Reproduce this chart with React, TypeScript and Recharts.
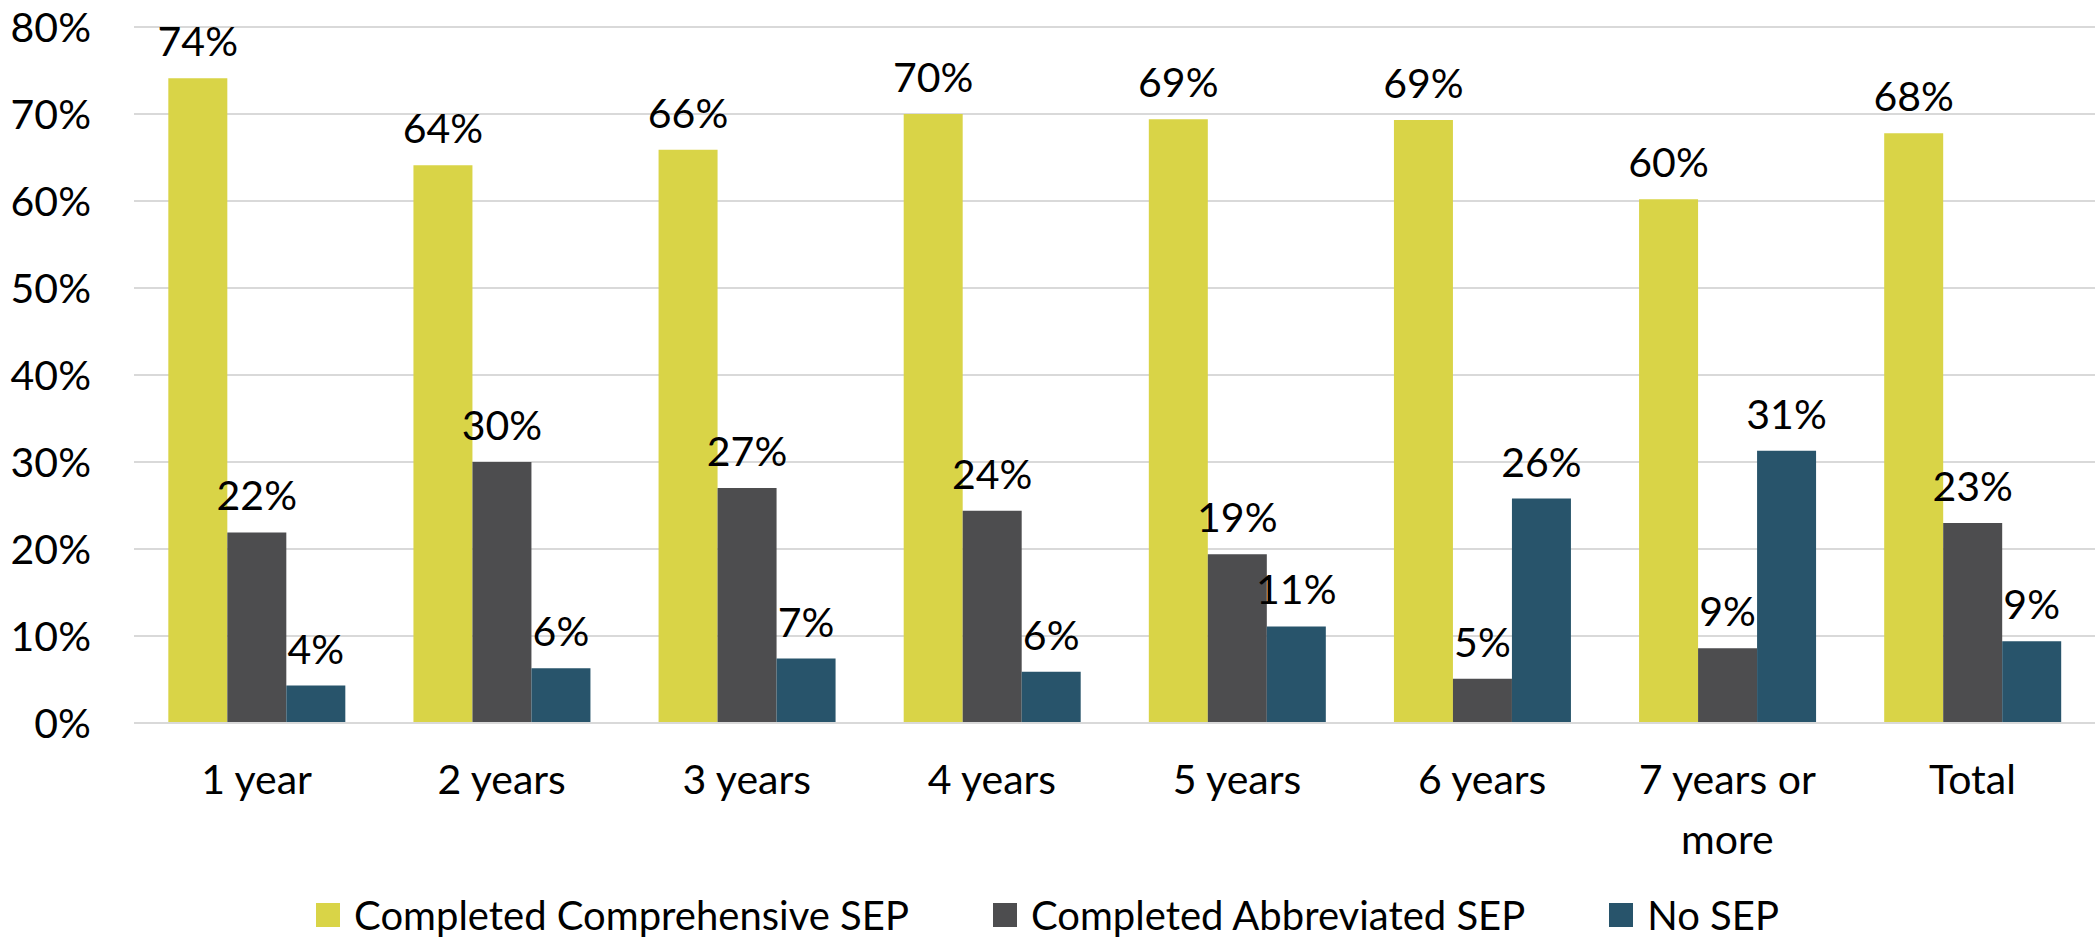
import { BarChart, Bar, XAxis, YAxis, CartesianGrid, Legend, LabelList } from "recharts";

const categories = ["1 year", "2 years", "3 years", "4 years", "5 years", "6 years", "7 years or more", "Total"];
const comprehensive = [74.1, 64.1, 65.9, 70.0, 69.4, 69.3, 60.2, 67.8];
const abbreviated = [21.9, 30.0, 27.0, 24.4, 19.4, 5.1, 8.6, 23.0];
const noSep = [4.3, 6.3, 7.4, 5.9, 11.1, 25.8, 31.3, 9.4];
const yTicks = [0, 10, 20, 30, 40, 50, 60, 70, 80];

const seriesNames = ["Completed Comprehensive SEP", "Completed Abbreviated SEP", "No SEP"];
const colors = ["#D9D447", "#4D4D4F", "#28546B"];

const FONT = "Lato, 'Open Sans', sans-serif";
const FS = 41;

const data = categories.map((c, i) => ({
  name: c,
  comprehensive: comprehensive[i],
  abbreviated: abbreviated[i],
  noSep: noSep[i],
}));

function wrap(label: string, max = 10): string[] {
  const words = label.split(" ");
  const lines: string[] = [];
  let cur = "";
  for (const w of words) {
    const next = cur ? cur + " " + w : w;
    if (next.length > max && cur) {
      lines.push(cur);
      cur = w;
    } else {
      cur = next;
    }
  }
  if (cur) lines.push(cur);
  return lines;
}

const XTick = ({ x, y, payload }: any) => {
  const lines = wrap(payload.value);
  return (
    <text x={x} y={y} textAnchor="middle" fill="#000" fontSize={FS} fontFamily={FONT}>
      {lines.map((l, i) => (
        <tspan key={i} x={x} dy={i === 0 ? "0.71em" : 60}>
          {l}
        </tspan>
      ))}
    </text>
  );
};

const LegendContent = () => (
  <div
    style={{
      display: "flex",
      justifyContent: "center",
      alignItems: "center",
      gap: 84,
      height: 46,
      fontFamily: FONT,
      fontSize: 40,
      color: "#000",
    }}
  >
    {seriesNames.map((n, i) => (
      <div key={n} style={{ display: "flex", alignItems: "center" }}>
        <div style={{ width: 24, height: 24, background: colors[i], marginRight: 14 }} />
        <span style={{ whiteSpace: "nowrap" }}>{n}</span>
      </div>
    ))}
  </div>
);

const pct = (v: any) => `${Math.round(Number(v))}%`;

export default function App() {
  const keys = ["comprehensive", "abbreviated", "noSep"];
  return (
    <div style={{ position: "absolute", left: 0, top: 0, background: "#fff" }}>
      <BarChart
        width={2100}
        height={938}
        data={data}
        margin={{ top: 27, right: 5, left: 0, bottom: 0 }}
        barCategoryGap="14%"
        barGap={0}
      >
        <CartesianGrid vertical={false} stroke="#D9D9D9" strokeWidth={2} />
        <XAxis
          dataKey="name"
          axisLine={{ stroke: "#D9D9D9", strokeWidth: 2 }}
          tickLine={false}
          tickSize={0}
          tickMargin={42}
          height={169}
          interval={0}
          tick={<XTick />}
        />
        <YAxis
          domain={[0, 80]}
          ticks={yTicks}
          tickFormatter={(v) => `${v}%`}
          axisLine={false}
          tickLine={false}
          tickSize={0}
          tickMargin={43}
          width={134}
          tick={{ fill: "#000", fontSize: FS, fontFamily: FONT }}
        />
        <Legend verticalAlign="bottom" align="center" content={<LegendContent />} />
        {keys.map((k, i) => (
          <Bar key={k} dataKey={k} name={seriesNames[i]} fill={colors[i]} isAnimationActive={false}>
            <LabelList
              dataKey={k}
              position="top"
              offset={22}
              formatter={pct}
              style={{ fill: "#000", fontSize: FS, fontFamily: FONT }}
            />
          </Bar>
        ))}
      </BarChart>
    </div>
  );
}
